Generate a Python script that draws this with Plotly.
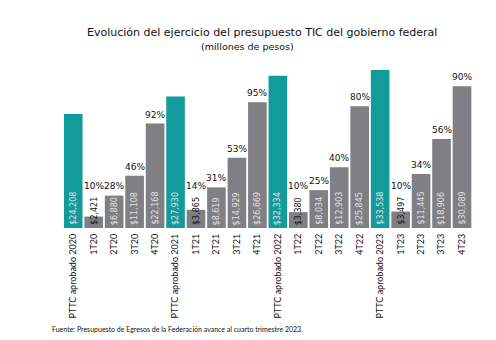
import plotly.graph_objects as go

categories = ["PTTC aprobado 2020", "1T20", "2T20", "3T20", "4T20",
              "PTTC aprobado 2021", "1T21", "2T21", "3T21", "4T21",
              "PTTC aprobado 2022", "1T22", "2T22", "3T22", "4T22",
              "PTTC aprobado 2023", "1T23", "2T23", "3T23", "4T23"]
values = [24208, 2421, 6880, 11108, 22168,
          27930, 3865, 8619, 14929, 26669,
          32334, 3380, 8034, 12903, 25845,
          33538, 3497, 11445, 18906, 30089]
percents = [None, "10%", "28%", "46%", "92%",
            None, "14%", "31%", "53%", "95%",
            None, "10%", "25%", "40%", "80%",
            None, "10%", "34%", "56%", "90%"]

TEAL = "#139b9b"
GRAY = "#7f7f84"
colors = [TEAL if c.startswith("PTTC") else GRAY for c in categories]

fig = go.Figure(go.Bar(x=categories, y=values, marker_color=colors,
                       marker_line_width=0, hoverinfo="skip"))

annotations = []
for c, v, p in zip(categories, values, percents):
    small = v < 5000
    annotations.append(dict(
        x=c, y=0, xref="x", yref="y", text="${:,}".format(v),
        textangle=-90, showarrow=False, yanchor="bottom", xanchor="center",
        yshift=1, font=dict(family="DejaVu Sans", size=8,
                            color="#111111" if small else "#e2e2e2")))
    if p:
        annotations.append(dict(
            x=c, y=max(v, 7000), xref="x", yref="y", text=p, showarrow=False,
            yanchor="bottom", xanchor="center", yshift=2,
            font=dict(family="DejaVu Sans", size=9, color="#111111")))

annotations += [
    dict(xref="paper", yref="paper", x=(262 - 63) / 411, y=1 + (65 - 32) / 163,
         text="Evolución del ejercicio del presupuesto TIC del gobierno federal",
         showarrow=False, xanchor="center", yanchor="middle",
         font=dict(family="DejaVu Sans", size=11, color="#111111")),
    dict(xref="paper", yref="paper", x=(247 - 63) / 411, y=1 + (65 - 46) / 163,
         text="(millones de pesos)",
         showarrow=False, xanchor="center", yanchor="middle",
         font=dict(family="DejaVu Sans", size=9.5, color="#111111")),
    dict(xref="paper", yref="paper", x=(50 - 63) / 411, y=-(329 - 228) / 163,
         text="Fuente: Presupuesto de Egresos de la Federación avance al cuarto trimestre 2023.",
         showarrow=False, xanchor="left", yanchor="middle",
         font=dict(family="Lato", size=7, color="#111111")),
]

fig.update_layout(
    width=496, height=340,
    margin=dict(l=63, r=22, t=65, b=112),
    paper_bgcolor="white", plot_bgcolor="white",
    bargap=0.09,
    showlegend=False,
    xaxis=dict(tickangle=-90, showgrid=False, showline=False, ticks="",
               ticklabelstandoff=3,
               tickfont=dict(family="Lato", size=9, color="#111111")),
    yaxis=dict(visible=False, range=[0, 34600]),
    annotations=annotations,
)

fig.write_html("out.html")
